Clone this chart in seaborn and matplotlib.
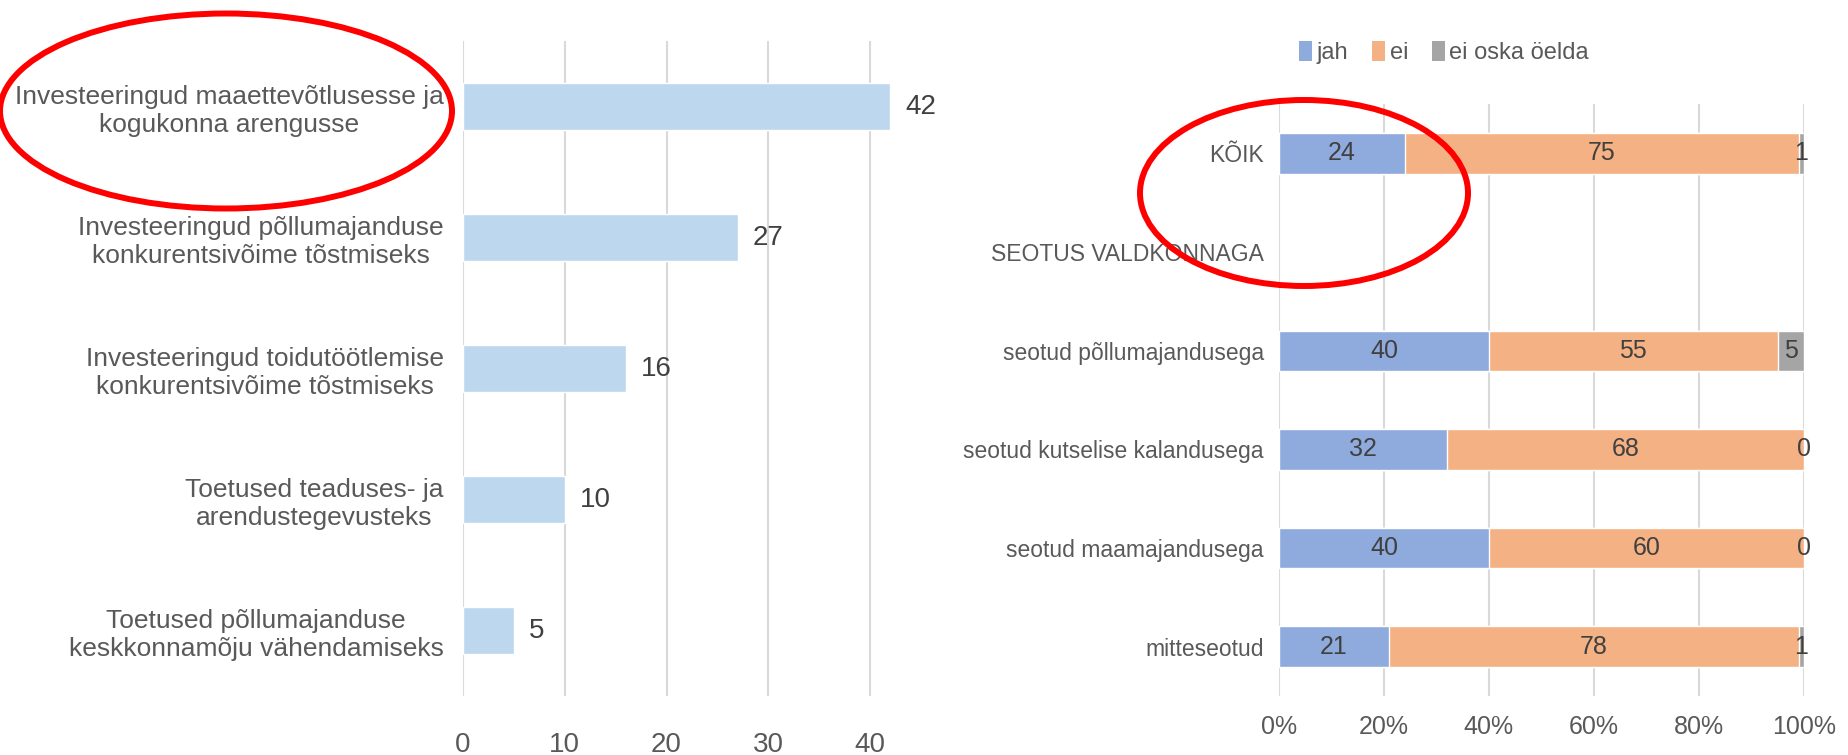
import matplotlib
matplotlib.use('Agg')
import matplotlib.pyplot as plt
import seaborn as sns
import pandas as pd
import numpy as np
from matplotlib.patches import Ellipse, Patch

sns.set_theme(style='white')
plt.rcParams['font.family'] = ['Liberation Sans', 'DejaVu Sans']

# ---- data: left chart ----
left_categories = [
    'Investeeringud maaettevõtlusesse ja\nkogukonna arengusse',
    'Investeeringud põllumajanduse\nkonkurentsivõime tõstmiseks',
    'Investeeringud toidutöötlemise\nkonkurentsivõime tõstmiseks',
    'Toetused teaduses- ja\narendustegevusteks',
    'Toetused põllumajanduse\nkeskkonnamõju vähendamiseks',
]
left_values = [42, 27, 16, 10, 5]
left_ticks = [0, 10, 20, 30, 40]

# ---- data: right chart ----
right_categories = ['KÕIK', 'SEOTUS VALDKONNAGA', 'seotud põllumajandusega',
                    'seotud kutselise kalandusega', 'seotud maamajandusega', 'mitteseotud']
jah = [24, np.nan, 40, 32, 40, 21]
ei = [75, np.nan, 55, 68, 60, 78]
ei_oska = [1, np.nan, 5, 0, 0, 1]
series_names = ['jah', 'ei', 'ei oska öelda']
right_ticks = [0, 20, 40, 60, 80, 100]
right_tick_labels = ['0%', '20%', '40%', '60%', '80%', '100%']

C_LEFT = '#BDD7EE'
C_JAH = '#8FAADC'
C_EI = '#F4B183'
C_EOS = '#A5A5A5'
GRID = '#D9D9D9'
TXT = '#595959'
VAL = '#404040'

fig = plt.figure(figsize=(18.49, 7.55), dpi=100)

# ---------- left chart ----------
ax1 = fig.add_axes([0.2504, 0.0781, 0.2477, 0.8675])
df1 = pd.DataFrame({'cat': left_categories, 'val': left_values})
sns.barplot(data=df1, y='cat', x='val', order=left_categories, color=C_LEFT,
            saturation=1, width=0.36, ax=ax1)
ax1.set_xlim(0, 45)
ax1.set_xticks(left_ticks)
ax1.set_xlabel('')
ax1.set_ylabel('')
for s in ax1.spines.values():
    s.set_visible(False)
ax1.grid(axis='x', color=GRID, linewidth=1.5)
ax1.grid(axis='y', visible=False)
ax1.set_axisbelow(True)
ax1.tick_params(axis='y', length=0, pad=14, labelsize=19, labelcolor=TXT)
ax1.tick_params(axis='x', length=0, pad=26, labelsize=20, labelcolor=TXT)
for lab in ax1.get_yticklabels():
    lab.set_multialignment('center')
    lab.set_linespacing(1.2)
ax1.bar_label(ax1.containers[0], labels=[str(v) for v in left_values],
              padding=11, fontsize=20, color=VAL)

# ---------- right chart ----------
ax2 = fig.add_axes([0.6917, 0.0781, 0.2839, 0.784])
jah_a = np.array(jah, dtype=float)
ei_a = np.array(ei, dtype=float)
eos_a = np.array(ei_oska, dtype=float)
df2 = pd.DataFrame({'cat': right_categories,
                    'total': jah_a + ei_a + eos_a,
                    'je': jah_a + ei_a,
                    'jah': jah_a})
for col, c in [('total', C_EOS), ('je', C_EI), ('jah', C_JAH)]:
    sns.barplot(data=df2, y='cat', x=col, order=right_categories, color=c,
                saturation=1, width=0.41, ax=ax2)
ax2.set_xlim(0, 100)
ax2.set_xticks(right_ticks)
ax2.set_xticklabels(right_tick_labels)
ax2.set_xlabel('')
ax2.set_ylabel('')
for s in ax2.spines.values():
    s.set_visible(False)
ax2.grid(axis='x', color=GRID, linewidth=1.5)
ax2.grid(axis='y', visible=False)
ax2.set_axisbelow(True)
ax2.tick_params(axis='y', length=0, pad=11, labelsize=16.5, labelcolor=TXT)
ax2.tick_params(axis='x', length=0, pad=14, labelsize=18, labelcolor=TXT)

for i in range(len(right_categories)):
    start = 0.0
    for arr in (jah_a, ei_a, eos_a):
        v = arr[i]
        if np.isnan(v):
            continue
        ax2.text(start + v / 2, i, f'{int(round(v))}', ha='center', va='center',
                 fontsize=18, color=VAL)
        start += v

handles = [Patch(facecolor=c, edgecolor='none', label=n)
           for c, n in zip([C_JAH, C_EI, C_EOS], series_names)]
fig.legend(handles=handles, loc='center', bbox_to_anchor=(0.781, 0.93), ncol=3,
           frameon=False, handlelength=0.55, handleheight=0.9, handletextpad=0.2,
           columnspacing=1.0, fontsize=17, labelcolor=TXT)

# red annotation ellipses
fig.add_artist(Ellipse((226 / 1849, 1 - 111 / 755), 452 / 1849, 195 / 755,
                       transform=fig.transFigure, fill=False, edgecolor='#FF0000', lw=4.3))
fig.add_artist(Ellipse((1304 / 1849, 1 - 193 / 755), 328 / 1849, 186 / 755,
                       transform=fig.transFigure, fill=False, edgecolor='#FF0000', lw=4.3))

fig.savefig('out.png', dpi=100)
